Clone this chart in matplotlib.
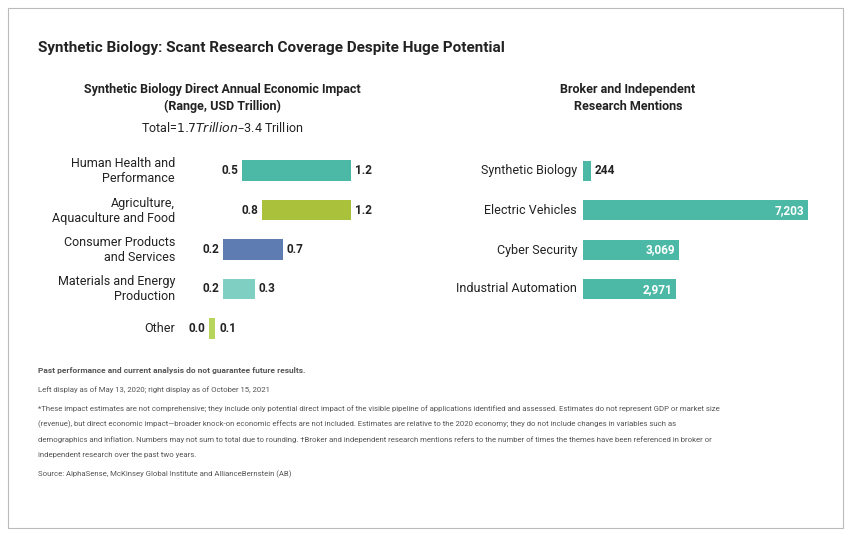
import matplotlib
matplotlib.use('Agg')
import matplotlib.pyplot as plt
from matplotlib.patches import Rectangle

plt.rcParams['font.family'] = ['Roboto', 'DejaVu Sans']

# left chart: range of direct annual economic impact
cats = ['Human Health and\nPerformance', 'Agriculture,\nAquaculture and Food',
        'Consumer Products\nand Services', 'Materials and Energy\nProduction', 'Other']
lo = [0.34, 0.50, 0.19, 0.19, 0.08]
hi = [1.20, 1.20, 0.66, 0.44, 0.13]
lo_lab = ['0.5', '0.8', '0.2', '0.2', '0.0']
hi_lab = ['1.2', '1.2', '0.7', '0.3', '0.1']
cols = ['#4cb9a7', '#a9c13b', '#5e7bb2', '#7fd0c2', '#b6d55a']

# right chart: research mentions
themes = ['Synthetic Biology', 'Electric Vehicles', 'Cyber Security', 'Industrial Automation']
mentions = [244, 7203, 3069, 2971]

W, H = 852, 537
fig = plt.figure(figsize=(W / 100, H / 100), dpi=100)

def fx(x): return x / W
def fy(y): return 1 - y / H

fig.patches.append(Rectangle((fx(8), fy(528)), fx(835), 520 / H, transform=fig.transFigure,
                             fill=False, edgecolor='#bbbbbb', lw=0.8))

dark = '#222222'
fig.text(fx(38), fy(48), 'Synthetic Biology: Scant Research Coverage Despite Huge Potential',
         fontsize=11, fontweight='bold', color=dark, va='center')
fig.text(fx(222), fy(98), 'Synthetic Biology Direct Annual Economic Impact\n(Range, USD Trillion)',
         fontsize=9, fontweight='bold', color=dark, ha='center', va='center', linespacing=1.3)
fig.text(fx(222), fy(128), 'Total=$1.7 Trillion–$3.4 Trillion', fontsize=9, color=dark,
         ha='center', va='center')
fig.text(fx(628), fy(98), 'Broker and Independent\nResearch Mentions',
         fontsize=9, fontweight='bold', color=dark, ha='center', va='center', linespacing=1.3)

# left axes: rows at y 171..328 px, value 0 at x=199
rows = [171, 211, 250, 289, 328]
ax = fig.add_axes([fx(199), fy(348), fx(161), (348 - 151) / H])
ax.set_xlim(0, 1.27)
ax.set_ylim(4.5, -0.5)
for i in range(len(cats)):
    ax.barh(i, hi[i] - lo[i], left=lo[i], height=0.52, color=cols[i])
    ax.text(lo[i] - 0.03, i, lo_lab[i], ha='right', va='center', fontsize=8.5,
            fontweight='bold', color=dark)
    ax.text(hi[i] + 0.03, i, hi_lab[i], ha='left', va='center', fontsize=8.5,
            fontweight='bold', color=dark)
    fig.text(fx(175), fy(rows[i]), cats[i], ha='right', va='center', fontsize=9,
             color=dark, linespacing=1.25)
ax.axis('off')

# right axes
ax2 = fig.add_axes([fx(583), fy(309), fx(225), (309 - 151) / H])
ax2.set_xlim(0, 7203)
ax2.set_ylim(3.5, -0.5)
ax2.barh(range(len(themes)), mentions, height=0.5, color='#4cb9a7')
for i, v in enumerate(mentions):
    fig.text(fx(577), fy(rows[i]), themes[i], ha='right', va='center', fontsize=9, color=dark)
    if v < 1000:
        ax2.text(v + 120, i, f'{v:,}', ha='left', va='center', fontsize=8.5,
                 fontweight='bold', color=dark)
    else:
        ax2.text(v - 120, i, f'{v:,}', ha='right', va='center', fontsize=8.5,
                 fontweight='bold', color='white')
ax2.axis('off')

grey = '#555555'
fig.text(fx(38), fy(371), 'Past performance and current analysis do not guarantee future results.',
         fontsize=6, fontweight='bold', color=grey, va='center')
notes = [
    (390, 'Left display as of May 13, 2020; right display as of October 15, 2021'),
    (409, '*These impact estimates are not comprehensive; they include only potential direct impact of the visible pipeline of applications identified and assessed. Estimates do not represent GDP or market size'),
    (424, '(revenue), but direct economic impact—broader knock-on economic effects are not included. Estimates are relative to the 2020 economy; they do not include changes in variables such as'),
    (440, 'demographics and inflation. Numbers may not sum to total due to rounding. †Broker and independent research mentions refers to the number of times the themes have been referenced in broker or'),
    (455, 'independent research over the past two years.'),
    (474, 'Source: AlphaSense, McKinsey Global Institute and AllianceBernstein (AB)'),
]
for y, t in notes:
    fig.text(fx(38), fy(y), t, fontsize=5.6, color=grey, va='center')

fig.savefig('out.png', dpi=100)
